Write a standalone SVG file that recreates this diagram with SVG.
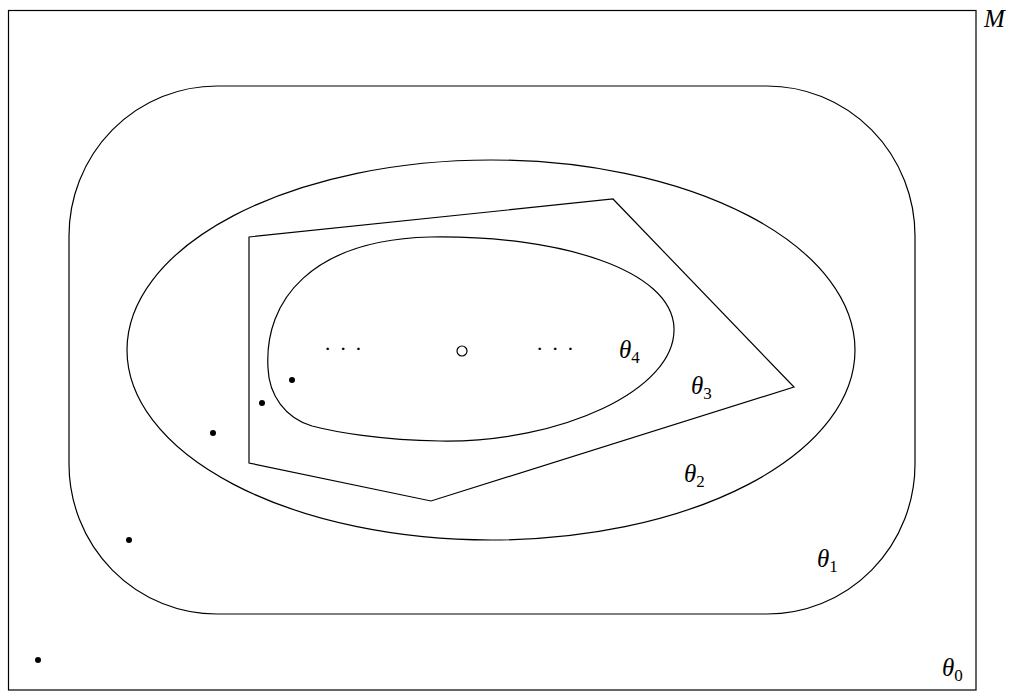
<svg xmlns="http://www.w3.org/2000/svg" width="1019" height="695" viewBox="0 0 1019 695">
<style>
.ln{fill:none;stroke:#000;stroke-width:1.2}
.lb{font-family:"Liberation Serif",serif;font-style:italic;font-size:25px;fill:#000}
.sb{font-family:"Liberation Serif",serif;font-style:normal;font-size:17px}
.dt{fill:#000}
.dots{font-family:"Liberation Serif",serif;font-size:22px;letter-spacing:1.3px;fill:#000}
</style>
<rect width="1019" height="695" fill="#fff"/>
<g id="M">
<rect class="ln" x="8.5" y="10.5" width="967.5" height="679.5"/>
<text class="lb" x="984" y="27">M</text>
</g>
<g id="theta1">
<rect class="ln" x="69" y="86" width="846" height="528" rx="148" ry="150"/>
</g>
<g id="theta2">
<ellipse class="ln" cx="491" cy="350" rx="364" ry="190"/>
</g>
<g id="theta3">
<polygon class="ln" points="249,237 613,199 794,387 431,501 249,463"/>
</g>
<g id="theta4">
<path class="ln" d="M 268,368 C 264,300 312,240 430,237 C 560,235 672,270 674,328 C 676,390 560,443 440,441 C 380,440 335,432 312,426 C 285,418 269,395 268,368 Z"/>
</g>
<g id="points">
<circle class="dt" cx="292" cy="380" r="3"/>
<circle class="dt" cx="262" cy="403" r="3"/>
<circle class="dt" cx="213" cy="433" r="3"/>
<circle class="dt" cx="129" cy="540" r="3"/>
<circle class="dt" cx="38" cy="660" r="3"/>
<circle cx="462" cy="351" r="5" fill="#fff" stroke="#000" stroke-width="1.2"/>
<text class="dots" x="324" y="356">· · ·</text>
<text class="dots" x="536" y="356">· · ·</text>
</g>
<g id="labels">
<text class="lb" x="619" y="358">θ<tspan class="sb" dy="5">4</tspan></text>
<text class="lb" x="691" y="394">θ<tspan class="sb" dy="5">3</tspan></text>
<text class="lb" x="684" y="482">θ<tspan class="sb" dy="5">2</tspan></text>
<text class="lb" x="817" y="567">θ<tspan class="sb" dy="5">1</tspan></text>
<text class="lb" x="942" y="676">θ<tspan class="sb" dy="5">0</tspan></text>
</g>
</svg>
